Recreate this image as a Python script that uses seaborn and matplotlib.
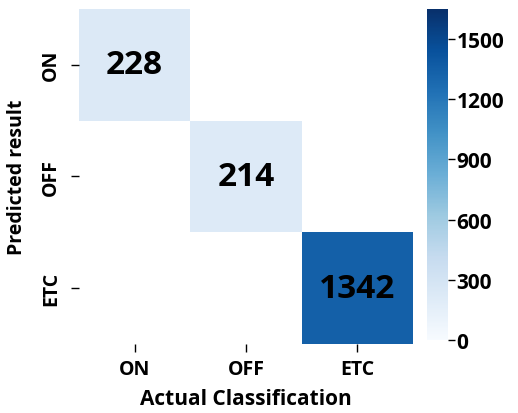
import numpy as np
import pandas as pd
import matplotlib
matplotlib.use('Agg')
import matplotlib.pyplot as plt
import seaborn as sns

classes = ['ON', 'OFF', 'ETC']
diag_counts = [228, 214, 1342]
vmax = 1650

cm = np.diag(diag_counts)
df = pd.DataFrame(cm, index=classes, columns=classes)
labels = np.where(cm > 0, cm.astype(str), '')

plt.rcParams['font.family'] = ['Open Sans', 'DejaVu Sans']
plt.rcParams['font.weight'] = 'bold'

fig = plt.figure(figsize=(5.18, 4.14), dpi=100)
ax = fig.add_axes([0.1525, 0.167, 0.645, 0.809])
cax = fig.add_axes([0.824, 0.176, 0.041, 0.800])

# zero cells left blank (white), like the original
sns.heatmap(df, annot=labels, fmt='', cmap='Blues', vmin=0, vmax=vmax,
            mask=(cm == 0), ax=ax, cbar_ax=cax,
            annot_kws={'fontsize': 24, 'fontweight': 'bold', 'color': 'black'})

ax.set_xlabel('Actual Classification', fontsize=15, fontweight='bold')
ax.set_ylabel('Predicted result', fontsize=14, fontweight='bold')
ax.xaxis.set_label_coords(0.5, -0.162)
ax.yaxis.set_label_coords(-0.185, 0.5)
ax.xaxis.label.set_va('center')
ax.yaxis.label.set_va('center')
ax.set_xticklabels(classes, fontsize=14, fontweight='bold', rotation=0)
ax.set_yticklabels(classes, fontsize=14, fontweight='bold', rotation=90, va='center')
ax.tick_params(axis='x', length=6, width=1, pad=5)
ax.tick_params(axis='y', length=6, width=1, pad=7)

cbar = ax.collections[0].colorbar
cbar.set_ticks([0, 300, 600, 900, 1200, 1500])
cbar.outline.set_visible(False)
cax.tick_params(labelsize=15, length=5, width=1, pad=1)
for t in cax.get_yticklabels():
    t.set_fontweight('bold')

fig.savefig('out.png', dpi=100)
